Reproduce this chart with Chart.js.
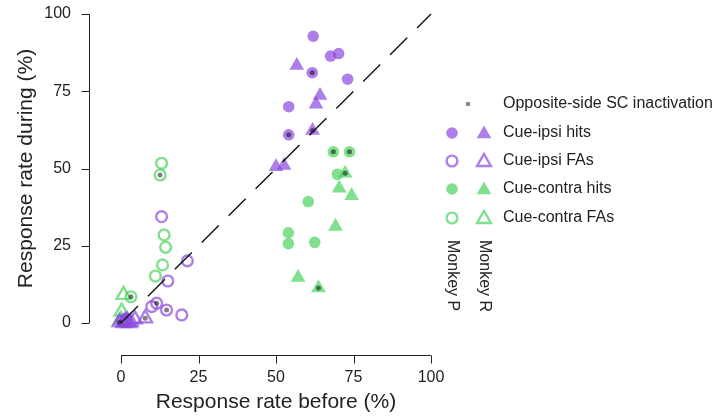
<!DOCTYPE html>
<html>
<head>
<meta charset="utf-8">
<script src="https://cdn.jsdelivr.net/npm/chart.js@4.4.0/dist/chart.umd.min.js"></script>
<style>
  html, body { margin: 0; padding: 0; background: #fff; }
  #wrap { width: 727px; height: 416px; position: relative; }
</style>
</head>
<body>
<div id="wrap"><canvas id="chart" width="727" height="416"></canvas></div>
<script>
// tick labels
const xTicks = [0, 25, 50, 75, 100];
const yTicks = [0, 25, 50, 75, 100];

// Cue-ipsi hits, Monkey P (filled circles)
const ipsiHitsPX = [62.0, 67.6, 70.2, 61.7, 73.1, 54.1, 54.1];
const ipsiHitsPY = [92.8, 86.4, 87.2, 81.0, 78.9, 70.0, 60.9];
const ipsiHitsPOpp = [0, 0, 0, 1, 0, 0, 1];
// Cue-ipsi hits, Monkey R (filled triangles)
const ipsiHitsRX = [56.7, 64.2, 62.9, 61.8, 50.0, 52.6];
const ipsiHitsRY = [83.3, 73.6, 70.8, 62.3, 50.6, 51.0];
const ipsiHitsROpp = [0, 0, 0, 1, 0, 0];
// Cue-ipsi FAs, Monkey P (open circles)
const ipsiFAsPX = [13.1, 21.4, 15.1, 11.5, 9.9, 14.7, 19.6, 0.5, 1.5];
const ipsiFAsPY = [34.4, 20.1, 13.6, 6.4, 5.3, 4.2, 2.6, 0.5, 1.0];
const ipsiFAsPOpp = [0, 0, 0, 1, 0, 1, 0, 0, 0];
// Cue-ipsi FAs, Monkey R (open triangles)
const ipsiFAsRX = [-0.5, 0.8, 1.3, 2.0, 2.6, 3.2, 4.5, 7.8];
const ipsiFAsRY = [0.3, 0.0, 0.6, 0.8, 0.0, 0.3, 1.2, 1.5];
const ipsiFAsROpp = [1, 0, 0, 0, 0, 0, 0, 1];
// Cue-contra hits, Monkey P (filled circles)
const contraHitsPX = [68.5, 73.7, 69.8, 60.4, 54.0, 54.0, 62.5];
const contraHitsPY = [55.4, 55.4, 48.1, 39.3, 29.2, 25.7, 26.1];
const contraHitsPOpp = [1, 1, 0, 0, 0, 0, 0];
// Cue-contra hits, Monkey R (filled triangles)
const contraHitsRX = [72.3, 70.4, 74.4, 69.2, 57.1, 63.7];
const contraHitsRY = [48.5, 43.6, 41.2, 31.2, 14.7, 11.3];
const contraHitsROpp = [1, 0, 0, 0, 0, 1];
// Cue-contra FAs, Monkey P (open circles)
const contraFAsPX = [13.1, 12.6, 13.9, 14.4, 13.4, 11.1, 3.2];
const contraFAsPY = [51.7, 47.9, 28.5, 24.5, 18.8, 15.2, 8.5];
const contraFAsPOpp = [0, 1, 0, 0, 0, 0, 1];
// Cue-contra FAs, Monkey R (open triangles)
const contraFAsRX = [0.8, 0.2, 0.0];
const contraFAsRY = [9.1, 3.7, 1.0];
const contraFAsROpp = [0, 0, 0];

const purple = 'rgba(140,72,222,0.7)';
const green = 'rgba(74,211,92,0.7)';
const dotColor = 'rgba(0,0,0,0.5)';
const textColor = '#222';

function pts(xs, ys) {
    return xs.map((x, i) => ({ x: x, y: ys[i] }));
}

// points marked with the opposite-side inactivation dot
const oppPoints = [];
[[ipsiHitsPX, ipsiHitsPY, ipsiHitsPOpp], [ipsiHitsRX, ipsiHitsRY, ipsiHitsROpp],
 [ipsiFAsPX, ipsiFAsPY, ipsiFAsPOpp], [ipsiFAsRX, ipsiFAsRY, ipsiFAsROpp],
 [contraHitsPX, contraHitsPY, contraHitsPOpp], [contraHitsRX, contraHitsRY, contraHitsROpp],
 [contraFAsPX, contraFAsPY, contraFAsPOpp], [contraFAsRX, contraFAsRY, contraFAsROpp]
].forEach(([xs, ys, opp]) => {
    xs.forEach((x, i) => { if (opp[i]) oppPoints.push({ x: x, y: ys[i] }); });
});

function markerSet(label, data, color, style, filled, order) {
    const tri = style === 'triangle';
    return {
        label: label,
        data: data,
        pointStyle: style,
        pointRadius: tri ? (filled ? 8.5 : 8) : (filled ? 5.8 : 5.4),
        pointBackgroundColor: filled ? color : 'rgba(0,0,0,0)',
        pointBorderColor: color,
        pointBorderWidth: filled ? 0 : 2.4,
        backgroundColor: filled ? color : 'rgba(0,0,0,0)',
        borderColor: color,
        clip: false,
        order: order
    };
}

const marks = {
    id: 'marks',
    afterDraw(chart) {
        const { ctx } = chart;
        const x = chart.scales.x, y = chart.scales.y;
        ctx.save();
        ctx.strokeStyle = textColor;
        ctx.fillStyle = textColor;
        ctx.lineWidth = 1;

        // detached x axis
        const axY = 355.5;
        ctx.beginPath();
        ctx.moveTo(x.getPixelForValue(xTicks[0]), axY);
        ctx.lineTo(x.getPixelForValue(xTicks[xTicks.length - 1]), axY);
        xTicks.forEach(t => {
            const px = Math.round(x.getPixelForValue(t)) + 0.5;
            ctx.moveTo(px, axY);
            ctx.lineTo(px, axY + 8);
        });
        ctx.stroke();
        ctx.font = '16px "Liberation Sans", Arial, sans-serif';
        ctx.textAlign = 'center';
        ctx.textBaseline = 'middle';
        xTicks.forEach(t => ctx.fillText(String(t), x.getPixelForValue(t), 378));
        ctx.font = '21px "Liberation Sans", Arial, sans-serif';
        ctx.fillText('Response rate before (%)', (x.left + x.right) / 2, 402);

        // detached y axis
        const axX = 89.5;
        ctx.beginPath();
        ctx.moveTo(axX, y.getPixelForValue(yTicks[0]));
        ctx.lineTo(axX, y.getPixelForValue(yTicks[yTicks.length - 1]));
        yTicks.forEach(t => {
            const py = Math.round(y.getPixelForValue(t)) + 0.5;
            ctx.moveTo(axX, py);
            ctx.lineTo(axX - 8, py);
        });
        ctx.stroke();
        ctx.font = '16px "Liberation Sans", Arial, sans-serif';
        ctx.textAlign = 'right';
        yTicks.forEach(t => ctx.fillText(String(t), 71, y.getPixelForValue(t)));
        ctx.save();
        ctx.translate(26, (y.top + y.bottom) / 2);
        ctx.rotate(-Math.PI / 2);
        ctx.textAlign = 'center';
        ctx.font = '21px "Liberation Sans", Arial, sans-serif';
        ctx.fillText('Response rate during (%)', 0, 0);
        ctx.restore();

        // legend
        const colP = 452, colR = 484, textX = 503;
        ctx.font = '16px "Liberation Sans", Arial, sans-serif';
        ctx.textAlign = 'left';
        ctx.fillStyle = '#888';
        ctx.beginPath();
        ctx.arc(468, 104, 2.3, 0, Math.PI * 2);
        ctx.fill();
        ctx.fillStyle = textColor;
        ctx.fillText('Opposite-side SC inactivation', textX, 104);
        const rows = [
            ['Cue-ipsi hits', purple, true, 133],
            ['Cue-ipsi FAs', purple, false, 161],
            ['Cue-contra hits', green, true, 189],
            ['Cue-contra FAs', green, false, 218]
        ];
        rows.forEach(([label, color, filled, ry]) => {
            ctx.fillStyle = filled ? color : 'rgba(0,0,0,0)';
            ctx.strokeStyle = color;
            ctx.lineWidth = 2.4;
            Chart.helpers.drawPoint(ctx, { pointStyle: 'circle', radius: filled ? 5.8 : 5.4, rotation: 0, borderWidth: filled ? 0 : 2.4 }, colP, ry);
            ctx.fillStyle = filled ? color : 'rgba(0,0,0,0)';
            Chart.helpers.drawPoint(ctx, { pointStyle: 'triangle', radius: filled ? 8.5 : 8, rotation: 0, borderWidth: filled ? 0 : 2.4 }, colR, ry + 1);
            ctx.fillStyle = textColor;
            ctx.fillText(label, textX, ry);
        });
        [['Monkey P', colP], ['Monkey R', colR]].forEach(([label, cx]) => {
            ctx.save();
            ctx.translate(cx, 240);
            ctx.rotate(Math.PI / 2);
            ctx.textAlign = 'left';
            ctx.fillText(label, 0, 0);
            ctx.restore();
        });
        ctx.restore();
    }
};

new Chart(document.getElementById('chart'), {
    type: 'scatter',
    data: {
        datasets: [
            {
                label: 'Unity',
                data: [{ x: 0, y: 0 }, { x: 100, y: 100 }],
                showLine: true,
                borderColor: '#111',
                borderWidth: 1.4,
                borderDash: [24, 14],
                pointRadius: 0,
                clip: false,
                order: 0
            },
            {
                label: 'Opposite-side SC inactivation',
                data: oppPoints,
                pointStyle: 'circle',
                pointRadius: 2.5,
                pointBorderWidth: 0,
                pointBackgroundColor: dotColor,
                backgroundColor: dotColor,
                clip: false,
                order: 1
            },
            markerSet('Cue-ipsi hits P', pts(ipsiHitsPX, ipsiHitsPY), purple, 'circle', true, 2),
            markerSet('Cue-ipsi hits R', pts(ipsiHitsRX, ipsiHitsRY), purple, 'triangle', true, 3),
            markerSet('Cue-ipsi FAs P', pts(ipsiFAsPX, ipsiFAsPY), purple, 'circle', false, 4),
            markerSet('Cue-ipsi FAs R', pts(ipsiFAsRX, ipsiFAsRY), purple, 'triangle', false, 5),
            markerSet('Cue-contra hits P', pts(contraHitsPX, contraHitsPY), green, 'circle', true, 6),
            markerSet('Cue-contra hits R', pts(contraHitsRX, contraHitsRY), green, 'triangle', true, 7),
            markerSet('Cue-contra FAs P', pts(contraFAsPX, contraFAsPY), green, 'circle', false, 8),
            markerSet('Cue-contra FAs R', pts(contraFAsRX, contraFAsRY), green, 'triangle', false, 9)
        ]
    },
    options: {
        responsive: false,
        animation: false,
        events: [],
        layout: { padding: { left: 121, right: 296, top: 14, bottom: 93 } },
        scales: {
            x: { type: 'linear', min: 0, max: 100, display: false },
            y: { type: 'linear', min: 0, max: 100, display: false }
        },
        plugins: {
            legend: { display: false },
            tooltip: { enabled: false }
        }
    },
    plugins: [marks]
});
</script>
</body>
</html>
